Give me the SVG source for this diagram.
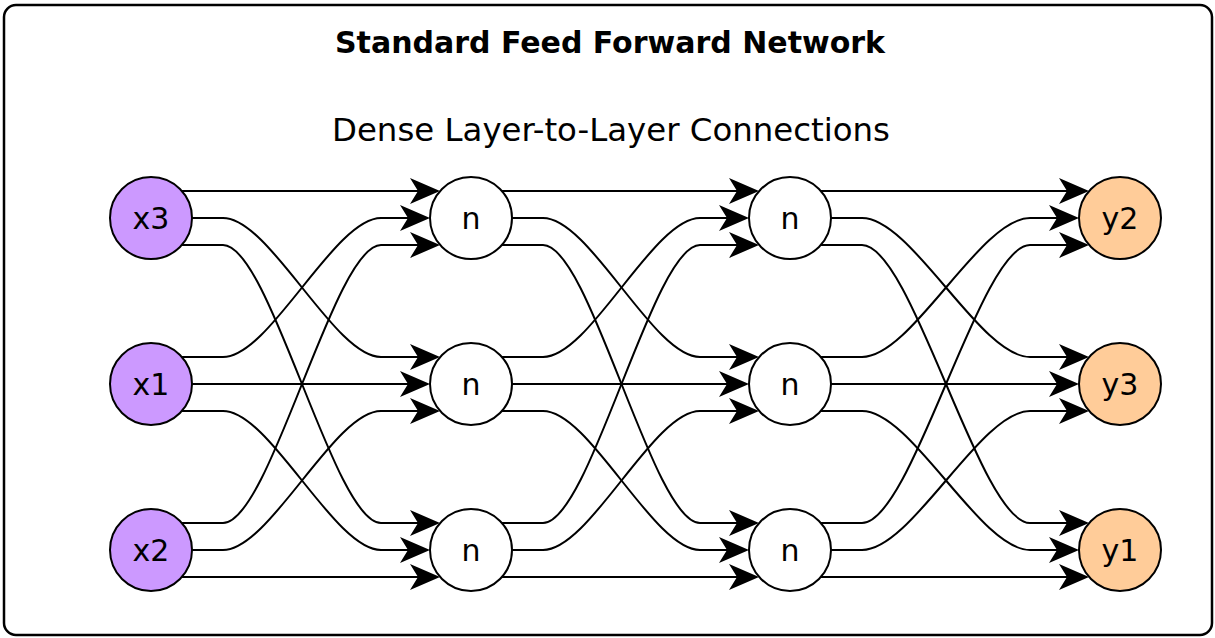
<svg xmlns="http://www.w3.org/2000/svg" width="1215" height="638" viewBox="0 0 1215 638">
<style>
  .frame{fill:#fff;stroke:#000;stroke-width:2.5}
  .title{font-family:"DejaVu Sans",sans-serif;font-weight:bold;font-size:30px;fill:#000}
  .sub{font-family:"DejaVu Sans",sans-serif;font-size:32.4px;fill:#000}
  .node circle{stroke:#000;stroke-width:2}
  .in circle{fill:#CC99FF}
  .hid circle{fill:#FFFFFF}
  .out circle{fill:#FFCC99}
  .node text{font-family:"DejaVu Sans",sans-serif;font-size:30px;fill:#000;text-anchor:middle}
  .edges path{fill:none;stroke:#000;stroke-width:2;marker-end:url(#arr)}
</style>
<defs>
  <marker id="arr" markerUnits="userSpaceOnUse" viewBox="0 0 30 26" markerWidth="30" markerHeight="26" refX="8" refY="13" orient="auto" overflow="visible">
    <path d="M0,0 L30,13 L0,26 L8,13 Z" fill="#000" stroke="none"/>
  </marker>
</defs>
<rect class="frame" x="4" y="5" width="1208" height="630" rx="12"/>
<text class="title" x="610" y="53" text-anchor="middle">Standard Feed Forward Network</text>
<text class="sub" x="611" y="141" text-anchor="middle">Dense Layer-to-Layer Connections</text>
<g id="x3" class="node in"><circle cx="151" cy="218" r="41"/><text x="151" y="229">x3</text></g>
<g id="x1" class="node in"><circle cx="151" cy="384" r="41"/><text x="151" y="395">x1</text></g>
<g id="x2" class="node in"><circle cx="151" cy="550" r="41"/><text x="151" y="561">x2</text></g>
<g id="h1a" class="node hid"><circle cx="471" cy="218" r="41"/><text x="471" y="229">n</text></g>
<g id="h1b" class="node hid"><circle cx="471" cy="384" r="41"/><text x="471" y="395">n</text></g>
<g id="h1c" class="node hid"><circle cx="471" cy="550" r="41"/><text x="471" y="561">n</text></g>
<g id="h2a" class="node hid"><circle cx="790" cy="218" r="41"/><text x="790" y="229">n</text></g>
<g id="h2b" class="node hid"><circle cx="790" cy="384" r="41"/><text x="790" y="395">n</text></g>
<g id="h2c" class="node hid"><circle cx="790" cy="550" r="41"/><text x="790" y="561">n</text></g>
<g id="y2" class="node out"><circle cx="1120" cy="218" r="41"/><text x="1120" y="229">y2</text></g>
<g id="y3" class="node out"><circle cx="1120" cy="384" r="41"/><text x="1120" y="395">y3</text></g>
<g id="y1" class="node out"><circle cx="1120" cy="550" r="41"/><text x="1120" y="561">y1</text></g>
<g id="connectors" class="edges">
  <path d="M182,191 L418,191"/>
  <path d="M192,218 L223,218 C270,218 334,357 381,357 L418,357"/>
  <path d="M182,245 L223,245 C270,245 334,523 381,523 L418,523"/>
  <path d="M182,357 L223,357 C270,357 334,218 381,218 L408,218"/>
  <path d="M192,384 L408,384"/>
  <path d="M182,411 L223,411 C270,411 334,550 381,550 L408,550"/>
  <path d="M182,523 L223,523 C270,523 334,245 381,245 L418,245"/>
  <path d="M192,550 L223,550 C270,550 334,411 381,411 L418,411"/>
  <path d="M182,577 L418,577"/>

  <path d="M502,191 L737,191"/>
  <path d="M512,218 L543,218 C590,218 653,357 700,357 L737,357"/>
  <path d="M502,245 L543,245 C590,245 653,523 700,523 L737,523"/>
  <path d="M502,357 L543,357 C590,357 653,218 700,218 L727,218"/>
  <path d="M512,384 L727,384"/>
  <path d="M502,411 L543,411 C590,411 653,550 700,550 L727,550"/>
  <path d="M502,523 L543,523 C590,523 653,245 700,245 L737,245"/>
  <path d="M512,550 L543,550 C590,550 653,411 700,411 L737,411"/>
  <path d="M502,577 L737,577"/>

  <path d="M821,191 L1067,191"/>
  <path d="M831,218 L862,218 C912,218 980,357 1030,357 L1067,357"/>
  <path d="M821,245 L862,245 C912,245 980,523 1030,523 L1067,523"/>
  <path d="M821,357 L862,357 C912,357 980,218 1030,218 L1057,218"/>
  <path d="M831,384 L1057,384"/>
  <path d="M821,411 L862,411 C912,411 980,550 1030,550 L1057,550"/>
  <path d="M821,523 L862,523 C912,523 980,245 1030,245 L1067,245"/>
  <path d="M831,550 L862,550 C912,550 980,411 1030,411 L1067,411"/>
  <path d="M821,577 L1067,577"/>
</g>
</svg>
